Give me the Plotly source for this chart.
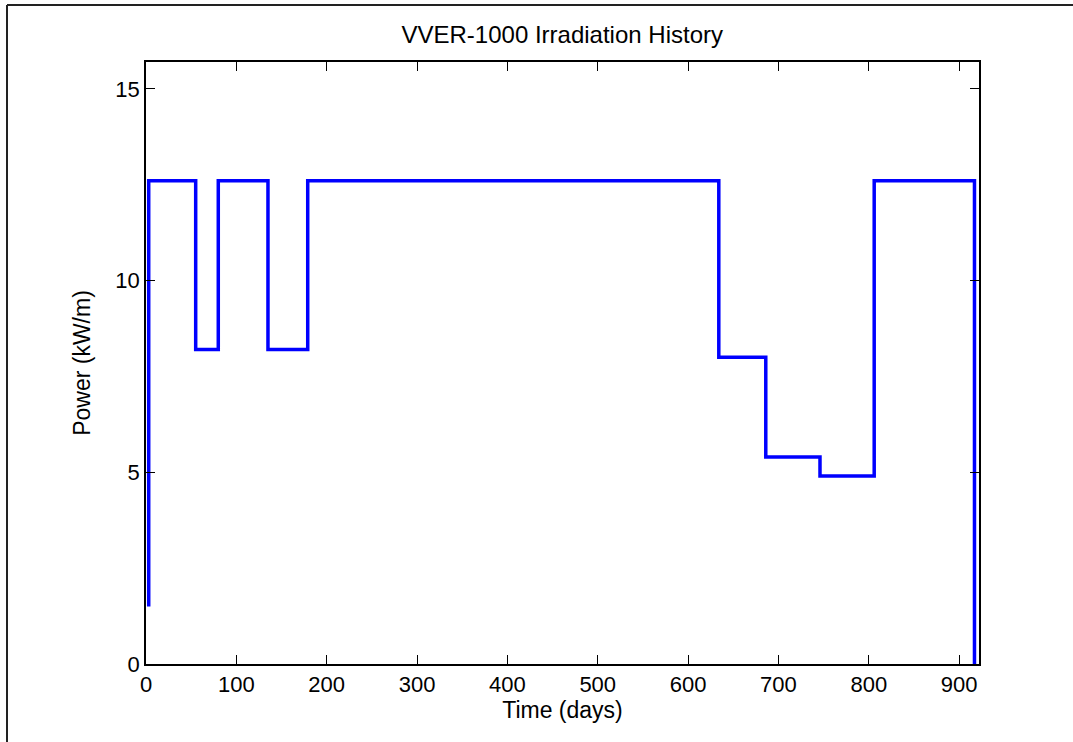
import plotly.graph_objects as go

# Irradiation history (step data)
days = [3, 3, 55, 80, 135, 179, 634, 686, 746, 806, 917]
power = [1.5, 12.6, 8.2, 12.6, 8.2, 12.6, 8.0, 5.4, 4.9, 12.6, 0]

x_ticks = [0, 100, 200, 300, 400, 500, 600, 700, 800, 900]
y_ticks = [0, 5, 10, 15]

FONT = "Liberation Sans, Arial, Helvetica, sans-serif"

fig = go.Figure()
fig.add_trace(go.Scatter(
    x=days, y=power, mode="lines", line_shape="hv",
    line=dict(color="#0000FF", width=3.5), showlegend=False,
))

axis_common = dict(
    showline=True, linecolor="black", linewidth=1.5, mirror="ticks",
    ticks="inside", ticklen=9, tickwidth=1, tickcolor="black",
    showgrid=False, zeroline=False,
    tickfont=dict(family=FONT, size=22, color="black"),
)

fig.update_layout(
    width=1073, height=742,
    margin=dict(l=146, r=94, t=62, b=78),
    paper_bgcolor="white", plot_bgcolor="white",
    title=dict(text="VVER-1000 Irradiation History", x=0.524, xanchor="center",
               y=1 - 35 / 742, yanchor="middle",
               font=dict(family=FONT, size=24, color="black")),
    xaxis=dict(range=[0, 922], tickvals=x_ticks,
               title=dict(text="Time (days)", font=dict(family=FONT, size=23, color="black"), standoff=6),
               **axis_common),
    yaxis=dict(range=[0, 15.7], tickvals=y_ticks,
               title=dict(text="Power (kW/m)", font=dict(family=FONT, size=23, color="black"), standoff=18),
               **axis_common),
    shapes=[
        dict(type="line", xref="paper", yref="paper",
             x0=(7 - 146) / 833, x1=(7 - 146) / 833,
             y0=(664 - 5) / 602, y1=(664 - 745) / 602,
             line=dict(color="#222222", width=2)),
        dict(type="line", xref="paper", yref="paper",
             x0=(7 - 146) / 833, x1=(1076 - 146) / 833,
             y0=(664 - 5) / 602, y1=(664 - 5) / 602,
             line=dict(color="#222222", width=2)),
    ],
)

fig.write_html("out.html")
